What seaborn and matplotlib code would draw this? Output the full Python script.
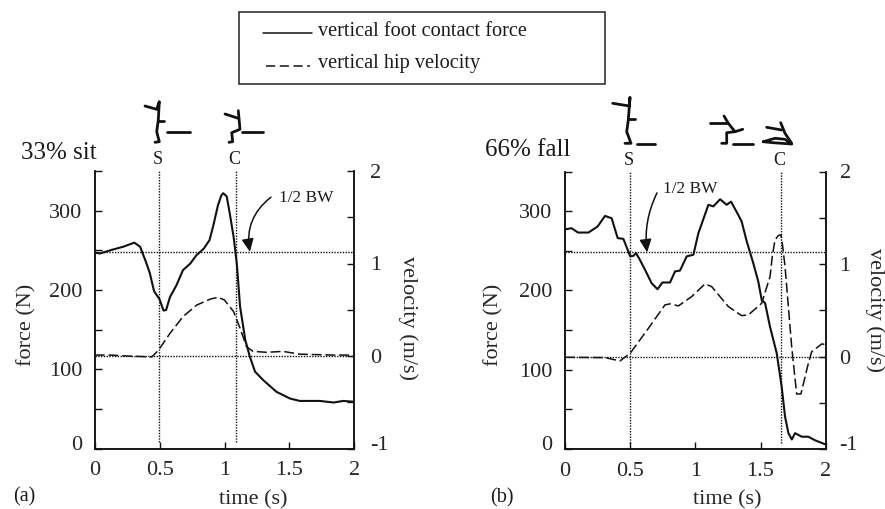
import numpy as np
import seaborn as sns
import matplotlib
matplotlib.use("Agg")
import matplotlib.pyplot as plt
from matplotlib.lines import Line2D
from matplotlib.patches import Rectangle
from matplotlib.transforms import ScaledTranslation

# panel (a) 33% sit
t_force_a = [0, .04, .12, .22, .305, .35, .40, .425, .457, .50, .53, .55, .58, .63, .68, .735, .785, .84, .885, .915,
             .95, .975, .99, 1.017, 1.04, 1.07, 1.095, 1.12, 1.16, 1.195, 1.235, 1.30, 1.40, 1.505, 1.58, 1.735, 1.84,
             1.915, 2]
force_a = [247, 246, 250, 254.5, 259.6, 254.5, 233, 221, 198.6, 188, 174, 174.6, 191, 206, 225, 233, 244, 252, 263, 282,
           307, 319, 322, 318, 297, 267, 233, 179, 137, 116, 97, 86, 71.5, 63, 60, 60, 58, 60, 59]
t_vel_a = [0, .12, .245, .44, .49, .58, .68, .785, .89, .95, 1.0, 1.07, 1.12, 1.17, 1.22, 1.325, 1.45, 1.58, 1.84, 2]
vel_a = [.01, .01, 0, -.01, .06, .245, .425, .55, .615, .635, .605, .48, .30, .10, .05, .04, .05, .02, .01, .01]

# panel (b) 66% fall
t_force_b = [0, .05, .10, .18, .25, .307, .358, .404, .448, .50, .524, .545, .575, .614, .665, .71, .747, .806, .844,
             .882, .934, .985, 1.023, 1.10, 1.138, 1.19, 1.24, 1.274, 1.33, 1.355, 1.394, 1.445, 1.483, 1.509, 1.535,
             1.573, 1.624, 1.662, 1.688, 1.714, 1.74, 1.765, 1.816, 1.867, 1.918, 1.995]
force_b = [277, 278.5, 273, 273, 280.6, 294, 291, 266, 265, 243, 243.6, 247, 238.5, 226, 209, 201.5, 210, 210, 224,
           225, 243, 245, 272, 308, 306, 315, 308, 312, 295, 287, 262, 234, 211, 188, 184,
           154, 121, 79, 41, 20, 12, 20, 15.5, 15.5, 11, 6]
t_vel_b = [0, .307, .422, .50, .64, .767, .806, .87, .972, 1.074, 1.125, 1.253, 1.355, 1.407, 1.509, 1.573, 1.59,
           1.611, 1.637, 1.657, 1.667, 1.688, 1.739, 1.777, 1.81, 1.867, 1.893, 1.97, 1.995]
vel_b = [-.008, -.012, -.048, .035, .305, .558, .569, .547, .648, .785, .756, .54, .442, .45, .576, .864, 1.08,
         1.26, 1.308, 1.315, 1.225, .973, .107, -.405, -.405, -.073, .053, .136, .13]

bw_half = 248
force_labels = ['0', '', '100', '', '200', '', '300', '']
force_ticks = [0, 50, 100, 150, 200, 250, 300, 350]
vel_labels = ['-1', '', '0', '', '1', '', '2']
vel_ticks = [-1, -.5, 0, .5, 1, 1.5, 2]
time_ticks = [0, 0.5, 1, 1.5, 2]
time_labels = ['0', '0.5', '1', '1.5', '2']

W, H = 885, 509
sns.set_theme(style='ticks')
plt.rcParams['font.family'] = ['Liberation Serif', 'DejaVu Serif']
plt.rcParams['text.color'] = '#1a1a1a'
FS = 16
INK = '#111111'


def panel(box, t_f, f, t_v, v, s_time, c_time, arrow_start, arrow_x, text_xy, arrow_rad, label_x, xlabel_x, rpad, vel_y):
    x0, x1, y_top, y_bot = box
    ax = fig.add_axes([x0 / W, 1 - y_bot / H, (x1 - x0) / W, (y_bot - y_top) / H])
    sns.lineplot(x=t_f, y=f, ax=ax, color=INK, lw=1.5, errorbar=None, estimator=None)
    ax.set_xlim(0, 2)
    ax.set_ylim(0, 350)
    ax.set_yticks(force_ticks)
    ax.set_yticklabels(force_labels, fontsize=FS)
    ax.set_xticks(time_ticks)
    ax.set_xticklabels(time_labels, fontsize=FS)
    ax.tick_params(direction='in', length=5, width=1, color=INK)
    ax.tick_params(axis='x', pad=9)
    ax.tick_params(axis='y', pad=9)
    ax.patch.set_alpha(0)

    ax2 = ax.twinx()
    sns.lineplot(x=t_v, y=v, ax=ax2, color=INK, lw=1.1, errorbar=None, estimator=None, linestyle=(0, (6.5, 2.5)))
    ax2.set_ylim(-1, 2)
    ax2.set_yticks(vel_ticks)
    ax2.set_yticklabels(vel_labels, fontsize=FS)
    ax2.tick_params(direction='in', length=5, width=1, pad=rpad, color=INK)

    # bottom labels sit a little above their ticks in the reference
    up = ScaledTranslation(0, 4 / 72, fig.dpi_scale_trans)
    for lab in (ax.get_yticklabels()[0], ax2.get_yticklabels()[0]):
        lab.set_transform(lab.get_transform() + up)

    # axis labels placed by pixel position
    w, h = x1 - x0, y_bot - y_top
    ax.set_xlabel('time (s)', fontsize=FS, va='center')
    ax.xaxis.set_label_coords((xlabel_x - x0) / w, (y_bot - 500) / h)
    ax.set_ylabel('force (N)', fontsize=FS, va='center')
    ax.yaxis.set_label_coords((label_x[0] - x0) / w, (y_bot - 325) / h)
    ax2.set_ylabel('velocity (m/s)', fontsize=FS, rotation=270, va='center')
    ax2.yaxis.set_label_coords((label_x[1] - x0) / w, (y_bot - vel_y) / h)

    for a in (ax, ax2):
        a.spines['top'].set_visible(False)
        for s in ('left', 'right', 'bottom'):
            a.spines[s].set_linewidth(1.1)
            a.spines[s].set_color(INK)

    dots = dict(color=INK, lw=1, linestyle=(0, (1, 1)))
    ax.axhline(bw_half, **dots)
    ax2.axhline(0, **dots)
    for tm, lab in ((s_time, 'S'), (c_time, 'C')):
        ax.plot([tm, tm], [8, 350], **dots)
        ax.text(tm - 0.012, 364, lab, ha='center', va='center', fontsize=13, clip_on=False)

    ax.text(text_xy[0], text_xy[1], '1/2 BW', fontsize=12.4, va='center', ha='left')
    ax.annotate('', xy=(arrow_x, bw_half), xytext=arrow_start,
                arrowprops=dict(arrowstyle='-|>,head_width=0.3,head_length=0.65', color=INK, lw=1.1,
                                connectionstyle='arc3,rad=%s' % arrow_rad, shrinkA=0, shrinkB=0))
    return ax


fig = plt.figure(figsize=(W / 100, H / 100), dpi=100, facecolor='white')
panel((94.7, 354.3, 171, 448.5), t_force_a, force_a, t_vel_a, vel_a, 0.495, 1.09, (1.358, 317), 1.196,
      (1.42, 316), 0.3, (27, 408), 253, 11.5, 318)
panel((565, 825.7, 171.5, 449), t_force_b, force_b, t_vel_b, vel_b, 0.5, 1.655, (0.706, 323), 0.63,
      (0.75, 328), 0.15, (494, 875), 727, 10, 310)

# overlay in pixel coordinates: legend box, panel tags, stick figures
ov = fig.add_axes([0, 0, 1, 1])
ov.set_xlim(0, W)
ov.set_ylim(H, 0)
ov.axis('off')
ov.patch.set_alpha(0)
ov.add_patch(Rectangle((238.5, 12), 366, 72, fill=False, ec='#222222', lw=1.1))
ov.add_line(Line2D([263, 312], [33, 33], color=INK, lw=1.1))
ov.add_line(Line2D([266, 310], [66, 66], color=INK, lw=1.1, linestyle=(0, (6, 3))))
ov.text(318, 31, 'vertical foot contact force', fontsize=14.6, va='center')
ov.text(318, 63, 'vertical hip velocity', fontsize=14.6, va='center')
ov.text(21, 153, '33% sit', fontsize=18, va='center')
ov.text(485, 150, '66% fall', fontsize=18, va='center')
ov.text(13, 497, '(a)', fontsize=14.5, va='center')
ov.text(490, 498, '(b)', fontsize=14.5, va='center')

stick = dict(color=INK, lw=2, solid_capstyle='round')
for xs, ys in (([145, 156.7, 159.3, 158.3, 156.7, 159.3, 155], [106, 109.3, 101.7, 120, 131.7, 141.7, 142.3]),
               ([158.3, 164.3], [121, 121]),
               ([167.3, 190], [132.3, 132.3]),
               ([225, 238.3], [114, 118.3]),
               ([238.3, 240, 231.7, 232.7, 229], [110.7, 129.3, 132.7, 141.7, 142.3]),
               ([241.7, 263.3], [132.3, 132.3]),
               # fall panel
               ([612.7, 629.3, 630, 628.3, 626.7, 631, 625], [103.3, 106, 97.3, 120, 131.7, 143.3, 143.3]),
               ([628, 635], [119.3, 119.3]),
               ([636.7, 655], [144, 144]),
               ([710, 726.7], [123.3, 123.3]),
               ([724, 728.3, 735, 726.7, 726.7, 721.7], [116, 123.3, 131.7, 132.7, 143.3, 143.3]),
               ([735, 742.7], [131.7, 129.3]),
               ([733.3, 752.7], [144, 144]),
               ([766.7, 781.7], [127.3, 130]),
               ([780.7, 785, 791.7], [122.7, 133.3, 143.3]),
               ([763.3, 775, 785, 791.7, 773, 763.3], [141.7, 138.3, 139.3, 144, 142.7, 141.7])):
    ov.add_line(Line2D(xs, ys, **stick))

fig.savefig('out.png', dpi=100)
